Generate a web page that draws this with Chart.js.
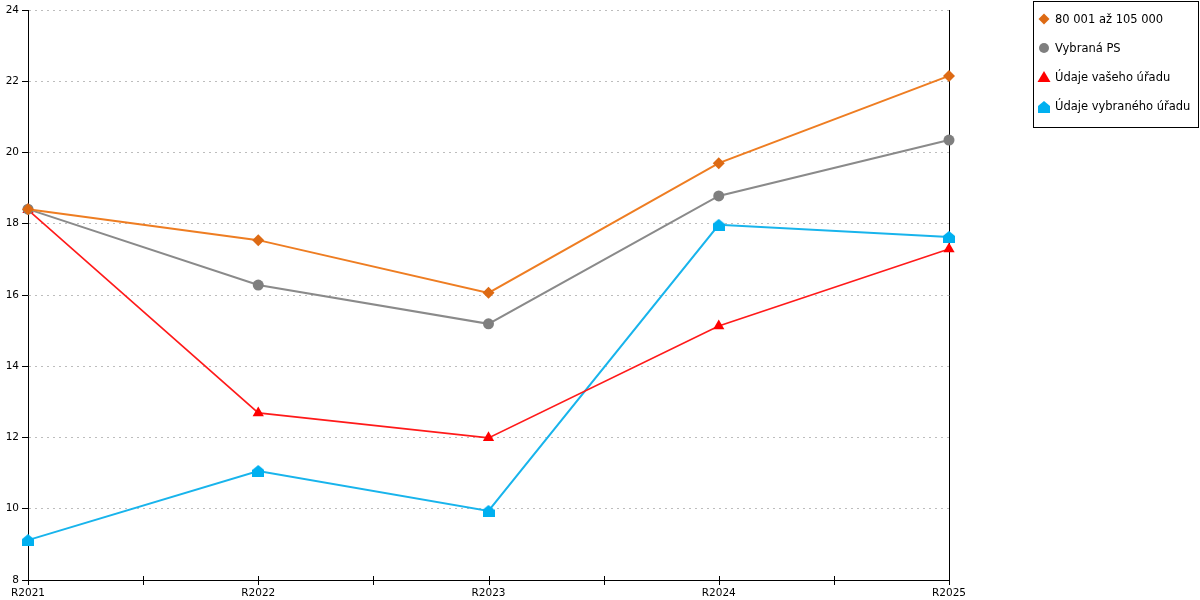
<!DOCTYPE html>
<html>
<head>
<meta charset="utf-8">
<script src="https://cdn.jsdelivr.net/npm/chart.js@4/dist/chart.umd.min.js"></script>
<style>
    html, body { margin: 0; padding: 0; background: #fff; }
    #wrap { width: 1200px; height: 600px; position: relative; }
</style>
</head>
<body>
<div id="wrap"><canvas id="chart"></canvas></div>
<script>
// Data
const categories = ['R2021', 'R2022', 'R2023', 'R2024', 'R2025'];
const seriesNames = ['80 001 až 105 000', 'Vybraná PS', 'Údaje vašeho úřadu', 'Údaje vybraného úřadu'];
const bandValues = [18.41, 17.54, 16.06, 19.70, 22.15];
const selectedPsValues = [18.41, 16.28, 15.19, 18.78, 20.35];
const yourOfficeValues = [18.39, 12.69, 11.99, 15.13, 17.29];
const selectedOfficeValues = [9.12, 11.06, 9.94, 17.97, 17.63];
const yTicks = [8, 10, 12, 14, 16, 18, 20, 22, 24];

const FONT = 'DejaVu Sans, Verdana, sans-serif';

// Small "house" marker used for the last series
function houseMarker(color) {
    const c = document.createElement('canvas');
    c.width = 12;
    c.height = 12;
    const ctx = c.getContext('2d');
    ctx.fillStyle = color;
    ctx.beginPath();
    ctx.moveTo(6, 0);
    ctx.lineTo(12, 5);
    ctx.lineTo(12, 12);
    ctx.lineTo(0, 12);
    ctx.lineTo(0, 5);
    ctx.closePath();
    ctx.fill();
    return c;
}

const blueHouse = houseMarker('#00b0f0');

function makeSet(label, data, lineColor, markColor, style, radius, width) {
    return {
        label: label,
        data: data,
        borderColor: lineColor,
        backgroundColor: markColor,
        pointBackgroundColor: markColor,
        pointBorderColor: markColor,
        pointBorderWidth: 0,
        pointStyle: style,
        pointRadius: radius,
        pointHoverRadius: radius,
        borderWidth: width,
        tension: 0,
        fill: false,
        clip: false
    };
}

const datasets = [
    makeSet(seriesNames[0], bandValues, '#ee7d22', '#dd6a14', 'rectRot', 6, 2),
    makeSet(seriesNames[1], selectedPsValues, '#8a8a8a', '#7f7f7f', 'circle', 5.5, 2),
    makeSet(seriesNames[2], yourOfficeValues, '#ff1a1a', '#ff0000', 'triangle', 6.5, 1.6),
    makeSet(seriesNames[3], selectedOfficeValues, '#18b4ec', '#00b0f0', blueHouse, 6, 2)
];

// Ticks on the x axis at each category and halfway between
const xTickPlugin = {
    id: 'xTicks',
    afterDraw(chart) {
        const x = chart.scales.x;
        const ctx = chart.ctx;
        const yAxis = chart.chartArea.bottom;
        ctx.save();
        ctx.strokeStyle = '#000';
        ctx.lineWidth = 1;
        for (let i = 0; i <= categories.length - 1; i += 0.5) {
            const px = Math.round(x.getPixelForValue(i)) + 0.5;
            ctx.beginPath();
            ctx.moveTo(px, yAxis - 4);
            ctx.lineTo(px, yAxis + 5);
            ctx.stroke();
        }
        ctx.restore();
    }
};

// Boxed legend on the right
const boxLegendPlugin = {
    id: 'boxLegend',
    afterDraw(chart) {
        const ctx = chart.ctx;
        const left = 1033.5, top = 1.5, w = 165, h = 126;
        ctx.save();
        ctx.fillStyle = '#fff';
        ctx.fillRect(left, top, w, h);
        ctx.strokeStyle = '#000';
        ctx.lineWidth = 1;
        ctx.strokeRect(left, top, w, h);
        ctx.font = '11.5px ' + FONT;
        ctx.textBaseline = 'middle';
        chart.data.datasets.forEach((ds, i) => {
            const cy = 19 + i * 29;
            const cx = 1044;
            ctx.fillStyle = ds.pointBackgroundColor;
            ctx.beginPath();
            if (ds.pointStyle === 'rectRot') {
                ctx.moveTo(cx, cy - 5.5);
                ctx.lineTo(cx + 5.5, cy);
                ctx.lineTo(cx, cy + 5.5);
                ctx.lineTo(cx - 5.5, cy);
                ctx.closePath();
                ctx.fill();
            } else if (ds.pointStyle === 'circle') {
                ctx.arc(cx, cy, 5, 0, Math.PI * 2);
                ctx.fill();
            } else if (ds.pointStyle === 'triangle') {
                ctx.moveTo(cx, cy - 6);
                ctx.lineTo(cx + 6.5, cy + 5);
                ctx.lineTo(cx - 6.5, cy + 5);
                ctx.closePath();
                ctx.fill();
            } else {
                ctx.drawImage(ds.pointStyle, cx - 6, cy - 5);
            }
            ctx.fillStyle = '#000';
            ctx.fillText(ds.label, 1055, cy + 1);
        });
        ctx.restore();
    }
};

const ctx = document.getElementById('chart').getContext('2d');
new Chart(ctx, {
    type: 'line',
    data: {
        labels: categories,
        datasets: datasets
    },
    options: {
        responsive: true,
        maintainAspectRatio: false,
        animation: false,
        devicePixelRatio: 1,
        layout: { padding: { top: 10, right: 251, left: 0, bottom: 0 } },
        plugins: {
            legend: { display: false },
            tooltip: { enabled: false }
        },
        scales: {
            x: {
                type: 'category',
                offset: false,
                grid: { display: false, drawTicks: false },
                border: { display: true, color: '#000', width: 1 },
                ticks: {
                    color: '#000',
                    font: { family: FONT, size: 10.5 },
                    padding: 7,
                    maxRotation: 0,
                    autoSkip: false
                },
                afterFit(scale) { scale.height = 20; }
            },
            y: {
                min: 8,
                max: 24,
                afterBuildTicks(scale) {
                    scale.ticks = yTicks.map(v => ({ value: v }));
                },
                grid: {
                    color: '#bdbdbd',
                    tickColor: '#000',
                    tickBorderDash: [],
                    tickLength: 6,
                    drawTicks: true
                },
                border: { display: true, color: '#000', width: 1, dash: [2, 4] },
                ticks: {
                    color: '#000',
                    font: { family: FONT, size: 10.5 },
                    padding: 3
                },
                afterFit(scale) { scale.width = 28; }
            },
            y2: {
                position: 'right',
                min: 8,
                max: 24,
                grid: { drawOnChartArea: false, drawTicks: false },
                border: { display: true, color: '#000', width: 1 },
                ticks: { display: false },
                afterFit(scale) { scale.width = 0; }
            }
        }
    },
    plugins: [xTickPlugin, boxLegendPlugin]
});
</script>
</body>
</html>
